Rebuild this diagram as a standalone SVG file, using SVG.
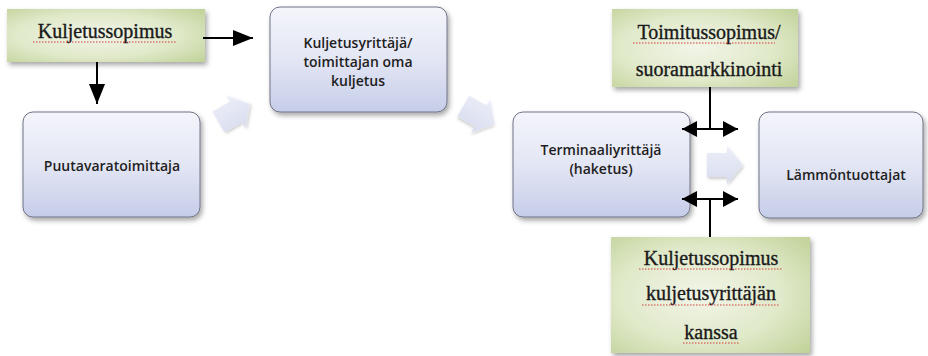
<svg xmlns="http://www.w3.org/2000/svg" width="928" height="356" viewBox="0 0 928 356">
<defs>
  <linearGradient id="blueG" x1="0" y1="0" x2="0" y2="1">
    <stop offset="0" stop-color="#f4f5fb"/>
    <stop offset="0.5" stop-color="#e3e6f4"/>
    <stop offset="1" stop-color="#c6cde8"/>
  </linearGradient>
  <radialGradient id="greenG" cx="0.45" cy="0.5" r="0.75">
    <stop offset="0" stop-color="#f2f5e8"/>
    <stop offset="0.55" stop-color="#e0e9c9"/>
    <stop offset="1" stop-color="#bfd196"/>
  </radialGradient>
  <linearGradient id="chevG" x1="0" y1="0" x2="0" y2="1">
    <stop offset="0" stop-color="#eceef8"/>
    <stop offset="1" stop-color="#d8dcee"/>
  </linearGradient>
  <filter id="sh" x="-20%" y="-20%" width="140%" height="150%">
    <feDropShadow dx="2" dy="3" stdDeviation="2.5" flood-color="#000" flood-opacity="0.35"/>
  </filter>
  <filter id="shs" x="-30%" y="-30%" width="160%" height="160%">
    <feDropShadow dx="1" dy="2" stdDeviation="1.5" flood-color="#000" flood-opacity="0.2"/>
  </filter>
  <marker id="ah" viewBox="0 0 20 16" refX="20" refY="8" markerWidth="20" markerHeight="16" markerUnits="userSpaceOnUse" orient="auto-start-reverse">
    <path d="M0,0 L20,8 L0,16 Z" fill="#000"/>
  </marker>
  <marker id="ahs" viewBox="0 0 15 16" refX="15" refY="8" markerWidth="15" markerHeight="16" markerUnits="userSpaceOnUse" orient="auto-start-reverse">
    <path d="M0,0 L15,8 L0,16 Z" fill="#000"/>
  </marker>
  <path id="chev" d="M-18,-12 L2,-12 L2,-19 L18,0 L2,19 L2,12 L-18,12 Z"/>
</defs>
<style>
  .blue { fill: url(#blueG); stroke: #6f7386; stroke-width: 1; filter: url(#sh); }
  .green { fill: url(#greenG); stroke: none; filter: url(#sh); }
  .chev { fill: url(#chevG); filter: url(#shs); }
  .sans { font-family: "Open Sans", "Liberation Sans", sans-serif; font-size: 14px; font-weight: 600; fill: #1e1e1e; text-anchor: middle; }
  .serif { font-family: "Liberation Serif", "Times New Roman", serif; font-size: 20px; fill: #1a1a1a; stroke: #1a1a1a; stroke-width: 0.35; text-anchor: middle; }
  .squig { stroke: #d23c3c; stroke-width: 1; stroke-dasharray: 1.5 1.5; fill: none; }
  .conn { stroke: #000; stroke-width: 2; fill: none; }
</style>
<rect width="928" height="356" fill="#ffffff"/>

<g id="kuljetussopimus-top">
  <rect class="green" x="7" y="9" width="198" height="53"/>
  <text class="serif" x="105" y="38">Kuljetussopimus</text>
  <line class="squig" x1="33" y1="42" x2="177" y2="42"/>
</g>

<g id="puutavaratoimittaja">
  <rect class="blue" x="23" y="112" width="177" height="105" rx="10"/>
  <text class="sans" x="112" y="171">Puutavaratoimittaja</text>
</g>

<g id="kuljetusyrittaja">
  <rect class="blue" x="270" y="7" width="177" height="105" rx="10"/>
  <text class="sans" x="358" y="48">Kuljetusyrittäjä/</text>
  <text class="sans" x="358" y="67">toimittajan oma</text>
  <text class="sans" x="358" y="86">kuljetus</text>
</g>

<g id="terminaaliyrittaja">
  <rect class="blue" x="513" y="112" width="177" height="105" rx="10"/>
  <text class="sans" x="601" y="155">Terminaaliyrittäjä</text>
  <text class="sans" x="601" y="174">(haketus)</text>
</g>

<g id="lammontuottajat">
  <rect class="blue" x="759" y="112" width="164" height="106" rx="10"/>
  <text class="sans" x="846" y="180">Lämmöntuottajat</text>
</g>

<g id="toimitussopimus">
  <rect class="green" x="612" y="9" width="186" height="78"/>
  <text class="serif" x="709" y="39">Toimitussopimus/</text>
  <line class="squig" x1="633" y1="43" x2="775" y2="43"/>
  <text class="serif" x="709" y="76">suoramarkkinointi</text>
</g>

<g id="kuljetussopimus-bottom">
  <rect class="green" x="611" y="237" width="199" height="116"/>
  <text class="serif" x="711" y="265">Kuljetussopimus</text>
  <line class="squig" x1="639" y1="269" x2="783" y2="269"/>
  <text class="serif" x="711" y="300">kuljetusyrittäjän</text>
  <line class="squig" x1="642" y1="305" x2="780" y2="305"/>
  <text class="serif" x="711" y="339">kanssa</text>
  <line class="squig" x1="683" y1="343" x2="739" y2="343"/>
</g>

<g id="connectors">
  <line class="conn" x1="203" y1="38" x2="253" y2="38" marker-end="url(#ah)"/>
  <line class="conn" x1="97" y1="62" x2="97" y2="104" marker-end="url(#ah)"/>
  <line class="conn" x1="710" y1="87" x2="710" y2="129"/>
  <line class="conn" x1="682" y1="129" x2="738" y2="129" marker-start="url(#ahs)" marker-end="url(#ahs)"/>
  <line class="conn" x1="710" y1="199" x2="710" y2="237"/>
  <line class="conn" x1="682" y1="199" x2="738" y2="199" marker-start="url(#ahs)" marker-end="url(#ahs)"/>
  <use href="#chev" class="chev" transform="translate(234,113) rotate(-30)"/>
  <use href="#chev" class="chev" transform="translate(479,115) rotate(30)"/>
  <use href="#chev" class="chev" transform="translate(725,165)"/>
</g>
</svg>
